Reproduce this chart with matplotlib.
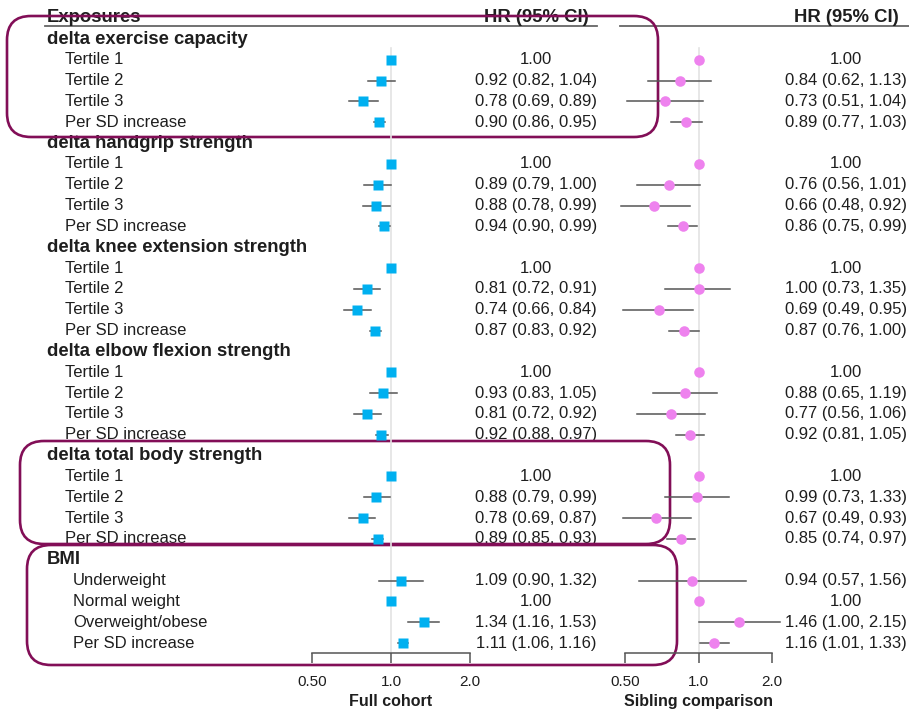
import matplotlib.pyplot as plt
import numpy as np
from matplotlib.patches import FancyBboxPatch
from matplotlib.ticker import NullLocator, FixedLocator, FixedFormatter

plt.rcParams['font.family'] = ['Liberation Sans', 'DejaVu Sans']

# exposures and their categories
groups = ["delta exercise capacity", "delta handgrip strength",
          "delta knee extension strength", "delta elbow flexion strength",
          "delta total body strength", "BMI"]
tertiles = ["Tertile 1", "Tertile 2", "Tertile 3", "Per SD increase"]
bmi_cats = ["Underweight", "Normal weight", "Overweight/obese", "Per SD increase"]
items = [tertiles] * 5 + [bmi_cats]

nan = np.nan
# full cohort hazard ratios
full_hr = [[1.00, 0.92, 0.78, 0.90], [1.00, 0.89, 0.88, 0.94],
           [1.00, 0.81, 0.74, 0.87], [1.00, 0.93, 0.81, 0.92],
           [1.00, 0.88, 0.78, 0.89], [1.09, 1.00, 1.34, 1.11]]
full_lo = [[nan, 0.82, 0.69, 0.86], [nan, 0.79, 0.78, 0.90],
           [nan, 0.72, 0.66, 0.83], [nan, 0.83, 0.72, 0.88],
           [nan, 0.79, 0.69, 0.85], [0.90, nan, 1.16, 1.06]]
full_hi = [[nan, 1.04, 0.89, 0.95], [nan, 1.00, 0.99, 0.99],
           [nan, 0.91, 0.84, 0.92], [nan, 1.05, 0.92, 0.97],
           [nan, 0.99, 0.87, 0.93], [1.32, nan, 1.53, 1.16]]
# sibling comparison hazard ratios
sib_hr = [[1.00, 0.84, 0.73, 0.89], [1.00, 0.76, 0.66, 0.86],
          [1.00, 1.00, 0.69, 0.87], [1.00, 0.88, 0.77, 0.92],
          [1.00, 0.99, 0.67, 0.85], [0.94, 1.00, 1.46, 1.16]]
sib_lo = [[nan, 0.62, 0.51, 0.77], [nan, 0.56, 0.48, 0.75],
          [nan, 0.73, 0.49, 0.76], [nan, 0.65, 0.56, 0.81],
          [nan, 0.73, 0.49, 0.74], [0.57, nan, 1.00, 1.01]]
sib_hi = [[nan, 1.13, 1.04, 1.03], [nan, 1.01, 0.92, 0.99],
          [nan, 1.35, 0.95, 1.00], [nan, 1.19, 1.06, 1.05],
          [nan, 1.33, 0.93, 0.97], [1.56, nan, 2.15, 1.33]]

x_ticks = [0.5, 1.0, 2.0]
x_ticklabels = ["0.50", "1.0", "2.0"]

W, H = 909, 713
TXT = "#1e1e1e"
GRID = "#e3e3e3"
CI = "#555555"
BOX = "#820e57"
FS = 12
FS_BOLD = 13.3

row0, dy = 39.0, 20.83
axis_y = 653


def ci_label(hr, lo, hi):
    if np.isnan(lo):
        return f"{hr:.2f}"
    return f"{hr:.2f} ({lo:.2f}, {hi:.2f})"


fig = plt.figure(figsize=(W / 100, H / 100), dpi=100)
base = fig.add_axes([0, 0, 1, 1])
base.set_xlim(0, W)
base.set_ylim(H, 0)
base.axis("off")


def forest_axes(x0, x1, xlabel):
    ax = fig.add_axes([x0 / W, 1 - axis_y / H, (x1 - x0) / W, axis_y / H])
    ax.patch.set_alpha(0)
    ax.set_xscale("log")
    ax.set_xlim(0.5, 2.0)
    ax.set_ylim(axis_y, 0)
    for s in ["top", "left", "right"]:
        ax.spines[s].set_visible(False)
    ax.spines["bottom"].set_color(CI)
    ax.spines["bottom"].set_linewidth(1.1)
    ax.set_yticks([])
    ax.xaxis.set_major_locator(FixedLocator(x_ticks))
    ax.xaxis.set_major_formatter(FixedFormatter(x_ticklabels))
    ax.xaxis.set_minor_locator(NullLocator())
    ax.tick_params(axis="x", length=7.2, width=1.1, color=CI, pad=9,
                   labelsize=11, labelcolor=TXT)
    ax.set_xlabel(xlabel, fontsize=11.5, fontweight="bold", color=TXT, labelpad=3)
    ax.plot([1, 1], [48, axis_y], color=GRID, lw=1.2, zorder=0, clip_on=False)
    return ax


ax_full = forest_axes(312, 470, "Full cohort")
ax_sib = forest_axes(625, 772, "Sibling comparison")

# header
base.text(47, 17, "Exposures", fontsize=FS_BOLD, fontweight="bold", color=TXT, va="center")
base.text(536, 17, "HR (95% CI)", fontsize=FS_BOLD, fontweight="bold", color=TXT,
          va="center", ha="center")
base.text(846, 17, "HR (95% CI)", fontsize=FS_BOLD, fontweight="bold", color=TXT,
          va="center", ha="center")
base.plot([45, 597], [26, 26], color="#666666", lw=1.3)
base.plot([620, 909], [26, 26], color="#666666", lw=1.3)

r = 0
for g, name in enumerate(groups):
    y = row0 + dy * r
    base.text(47, y, name, fontsize=FS_BOLD, fontweight="bold", color=TXT, va="center")
    r += 1
    indent = 73 if name == "BMI" else 65
    for k, label in enumerate(items[g]):
        y = row0 + dy * r
        base.text(indent, y, label, fontsize=FS, color=TXT, va="center")
        base.text(536, y, ci_label(full_hr[g][k], full_lo[g][k], full_hi[g][k]),
                  fontsize=FS, color=TXT, va="center", ha="center")
        base.text(846, y, ci_label(sib_hr[g][k], sib_lo[g][k], sib_hi[g][k]),
                  fontsize=FS, color=TXT, va="center", ha="center")
        if not np.isnan(full_lo[g][k]):
            ax_full.plot([full_lo[g][k], full_hi[g][k]], [y, y], color=CI,
                         lw=1.1, clip_on=False, zorder=2)
        ax_full.plot(full_hr[g][k], y, marker="s", ms=7.2, color="#00b0f0",
                     mec="none", clip_on=False, zorder=3)
        if not np.isnan(sib_lo[g][k]):
            ax_sib.plot([sib_lo[g][k], sib_hi[g][k]], [y, y], color=CI,
                        lw=1.1, clip_on=False, zorder=2)
        ax_sib.plot(sib_hr[g][k], y, marker="o", ms=7.6, color="#ee82ee",
                    mec="none", clip_on=False, zorder=3)
        r += 1

# highlight boxes
for x0, y0, x1, y1 in [(7, 16, 658, 137), (20, 441, 670, 544), (27, 545, 677, 665)]:
    box = FancyBboxPatch((x0, y0), x1 - x0, y1 - y0,
                         boxstyle="round,pad=0,rounding_size=24",
                         fill=False, ec=BOX, lw=1.9, zorder=10)
    base.add_patch(box)

fig.savefig("out.png", dpi=100)
